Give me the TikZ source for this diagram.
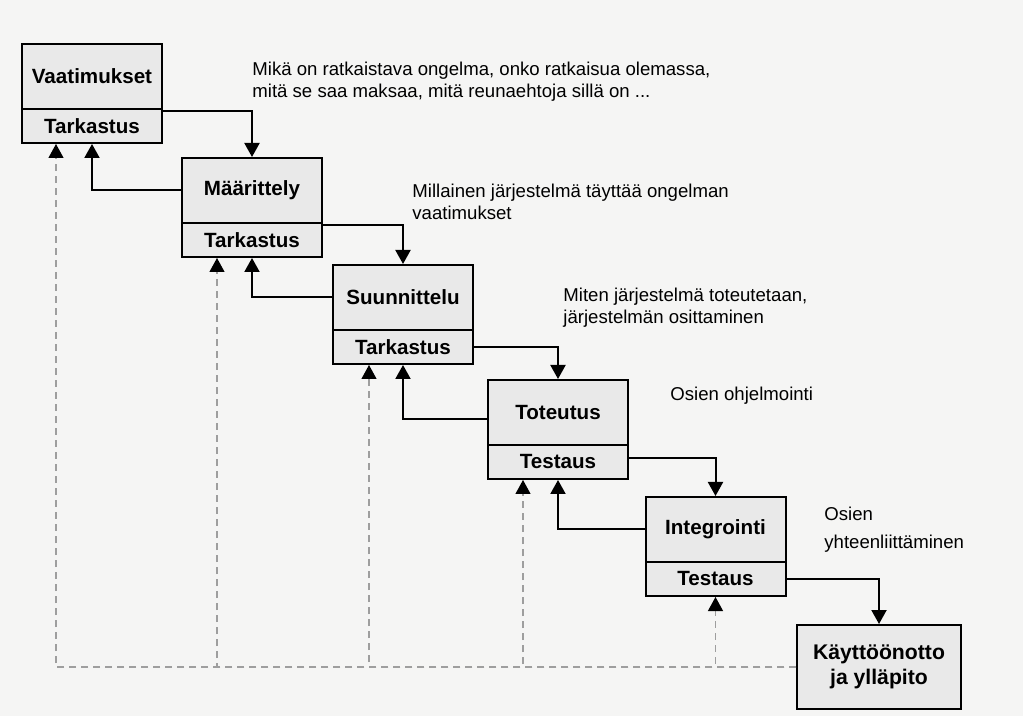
\documentclass[tikz,border=0pt]{standalone}
\usepackage{fontspec}
\setmainfont{Liberation Sans}
\usetikzlibrary{arrows.meta,positioning}
\definecolor{paper}{rgb}{0.96,0.96,0.955}
\definecolor{boxgray}{rgb}{0.915,0.915,0.915}
\definecolor{dashgray}{rgb}{0.62,0.62,0.62}

\begin{document}
\begin{tikzpicture}[x=0.5pt,y=-0.5pt,
    phase/.style={draw,line width=1pt,fill=boxgray,minimum width=70pt,minimum height=32.5pt,
      inner sep=0pt,font=\fontsize{10.3}{12.5}\selectfont\bfseries},
    check/.style={phase,minimum height=17pt},
    flow/.style={line width=1pt,-{Triangle[width=7.5pt,length=7pt]}},
    back/.style={dashgray,line width=0.6pt,dash pattern=on 3.5pt off 2.5pt,
      -{Triangle[width=7.5pt,length=7pt,color=black]}},
    note/.style={anchor=north west,inner sep=0pt,align=left,font=\fontsize{9.3}{11}\selectfont}]
        \fill[paper] (0,0) rectangle (1023,716);
        \useasboundingbox (0,0) rectangle (1023,716);

        % First phase
        \node[phase] (vaat) at (92,76.5) {Vaatimukset};
        \node[check] (vaattark) at (92,126) {Tarkastus};
        \node[note] (vaatnote) at (252,62) {Mikä on ratkaistava ongelma, onko ratkaisua olemassa,\\mitä se saa maksaa, mitä reunaehtoja sillä on ...};

        % Second phase
        \node[phase] (maar) at (252,190.5) {Määrittely};
        \node[check] (maartark) at (252,240) {Tarkastus};
        \node[note] (maarnote) at (412,184) {Millainen järjestelmä täyttää ongelman\\vaatimukset};

        % Third phase
        \node[phase] (suun) at (403,297.5) {Suunnittelu};
        \node[check] (suuntark) at (403,347) {Tarkastus};
        \node[note] (suunnote) at (563,288) {Miten järjestelmä toteutetaan,\\järjestelmän osittaminen};

        % Fourth phase
        \node[phase] (tot) at (558,412.5) {Toteutus};
        \node[check] (tottest) at (558,462) {Testaus};
        \node[note] (totnote) at (670,387) {Osien ohjelmointi};

        % Fifth phase
        \node[phase] (int) at (715.5,529.5) {Integrointi};
        \node[check] (inttest) at (715.5,579) {Testaus};
        \node[note] (intnote) at (824,507) {Osien\\[3pt]yhteenliittäminen};

        % Last phase
        \node[phase,minimum width=82pt,minimum height=42pt,align=center,
          font=\fontsize{10.6}{12.5}\selectfont\bfseries] (kayt) at (879,667) {Käyttöönotto\\ja ylläpito};

        % Forward
        \draw[flow] ([yshift=-1.75pt]vaattark.north east) -| (maar.north);
        \draw[flow] ([yshift=-1.5pt]maartark.north east) -| (suun.north);
        \draw[flow] (suuntark.east) -| (tot.north);
        \draw[flow] ([yshift=2pt]tottest.east) -| (int.north);
        \draw[flow] (inttest.east) -| (kayt.north);

        % Backward
        \draw[flow] (maar.west) -| (vaattark.south);
        \draw[flow] (suun.west) -| (maartark.south);
        \draw[flow] ([yshift=-3.5pt]tot.west) -| (suuntark.south);
        \draw[flow] (int.west) -| (tottest.south);

        % Feedback from use
        \draw[back] (kayt.west) -| ([xshift=-18pt]vaattark.south);
        \draw[back] (kayt.west) -| ([xshift=-17.5pt]maartark.south);
        \draw[back] (kayt.west) -| ([xshift=-17pt]suuntark.south);
        \draw[back] (kayt.west) -| ([xshift=-17.5pt]tottest.south);
        \draw[back] (kayt.west) -| (inttest.south);
\end{tikzpicture}
\end{document}
